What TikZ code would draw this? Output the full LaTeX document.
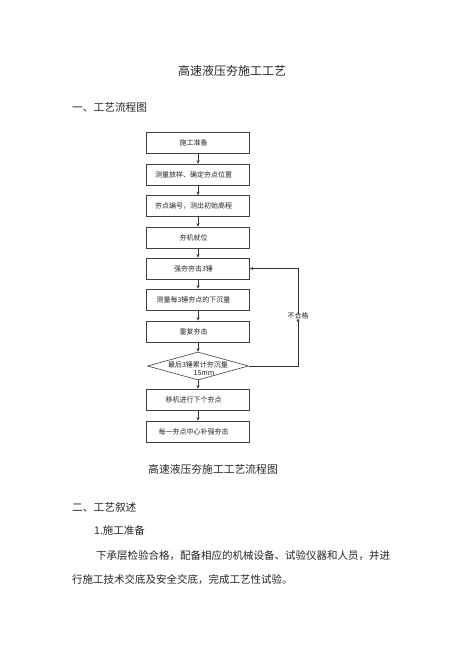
\documentclass[tikz,border=0pt]{standalone}
\usepackage{fontspec}
\setmainfont{Noto Sans CJK SC}
\usetikzlibrary{shapes.geometric,arrows.meta}
\tikzset{
  x=1pt, y=-1pt,
  txt/.style={text=black!85, inner sep=0pt},
  stepbox/.style={draw=black!75, line width=0.6pt, minimum width=103pt, minimum height=21pt, inner sep=0pt, font=\fontsize{7}{8}\selectfont, text=black!85, execute at end node={\hspace*{9pt}}},
  decbox/.style={draw=black!75, line width=0.6pt, shape=diamond, minimum width=101pt, minimum height=28pt, inner sep=0pt},
  flow/.style={draw=black!80, line width=0.6pt, -{Stealth[length=3.5pt,width=3pt]}},
}
\begin{document}
\begin{tikzpicture}
\useasboundingbox[fill=white] (0,0) rectangle (463,655);
% headings
\node[txt, font=\fontsize{12}{14}\selectfont] (title) at (232,71) {高速液压夯施工工艺};
\node[txt, anchor=west, font=\fontsize{10.7}{12}\selectfont] (h1) at (72,107) {一、工艺流程图};
% flow boxes
\node[stepbox] (b1) at (198,143) {施工准备};
\node[stepbox] (b2) at (198,174.5) {测量放样、确定夯点位置};
\node[stepbox] (b3) at (198,206) {夯点编号，测出初始高程};
\node[stepbox] (b4) at (198,237.5) {夯机就位};
\node[stepbox] (b5) at (198,268.5) {强夯夯击3锤};
\node[stepbox] (b6) at (198,299.5) {测量每3锤夯点的下沉量};
\node[stepbox] (b7) at (198,331.5) {重复夯击};
\node[decbox, label={[font=\fontsize{7}{8}\selectfont, text=black!85, align=center, yshift=-3pt]center:最后3锤累计夯沉量\\\hspace*{12pt}15mm}] (d) at (198,366) {};
\node[stepbox] (b9) at (198,399.5) {移机进行下个夯点};
\node[stepbox] (b10) at (198,431.5) {每一夯点中心补强夯击};
\node[txt, font=\fontsize{7}{8}\selectfont, inner sep=2pt] (ng) at (298,316) {不合格};
% connectors
\draw[flow] (b1) -- (b2);
\draw[flow] (b2) -- (b3);
\draw[flow] (b3) -- (b4);
\draw[flow] (b4) -- (b5);
\draw[flow] (b5) -- (b6);
\draw[flow] (b6) -- (b7);
\draw[flow] (b7) -- (d);
\draw[flow] (d) -- (b9);
\draw[flow] (b9) -- (b10);
\draw[flow] (d.east) -| ([yshift=3pt]ng.south);
\draw[flow] ([yshift=-3pt]ng.north) |- (b5.east);
% caption and body text
\node[txt, font=\fontsize{10.8}{12}\selectfont] (cap) at (213,469) {高速液压夯施工工艺流程图};
\node[txt, anchor=west, font=\fontsize{10.7}{12}\selectfont] (h2) at (72,507) {二、工艺叙述};
\node[txt, anchor=west, font=\fontsize{10.5}{12}\selectfont] (h3) at (94,530) {1.施工准备};
\node[txt, anchor=west, font=\fontsize{10.5}{12}\selectfont] (p1) at (96,556) {下承层检验合格，配备相应的机械设备、试验仪器和人员，并进};
\node[txt, anchor=west, font=\fontsize{10.5}{12}\selectfont] (p2) at (72,580) {行施工技术交底及安全交底，完成工艺性试验。};
\end{tikzpicture}
\end{document}
